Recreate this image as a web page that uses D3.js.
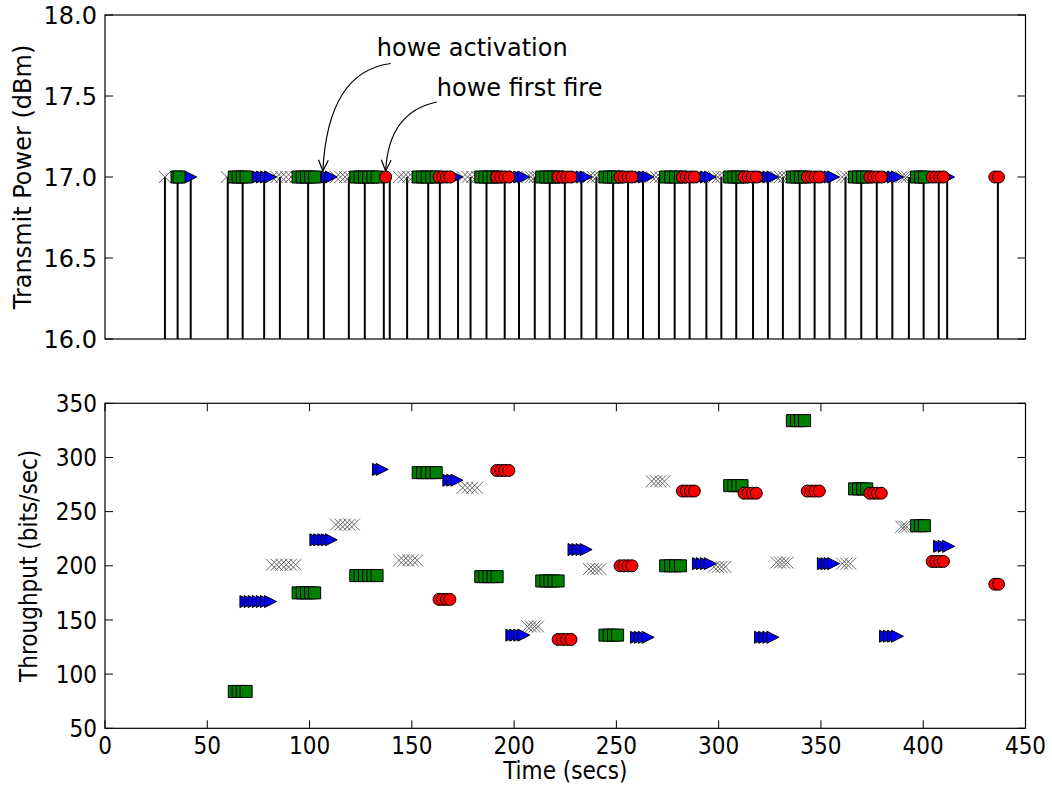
<!DOCTYPE html>
<html>
<head>
<meta charset="utf-8">
<script src="https://cdn.jsdelivr.net/npm/d3@7"></script>
<style>
  body { margin: 0; background: #fff; }
  text { font-family: "DejaVu Sans", "Bitstream Vera Sans", sans-serif; fill: #000; }
  .cond text { font-family: "DejaVu Sans Condensed", "DejaVu Sans", sans-serif; font-stretch: condensed; }
</style>
</head>
<body>
<div id="chart"></div>
<script>
// ---- data ----
// [time (secs), throughput (bits/sec)] for each node
var crossPts = [
  [81.6,201],[83.9,201],[86.2,201],[88.6,201],[90.9,201],[93.2,201],
  [112.9,238],[115.1,238],[117.3,238],[119.5,238],[121.7,238],
  [143.8,205],[146.0,205],[148.2,205],[150.4,205],[152.6,205],
  [174.8,272],[177.2,272],[179.5,272],[181.9,272],
  [206.5,144],[208.2,144],[210.0,144],[211.7,144],
  [236.6,197],[238.5,197],[240.3,197],[242.2,197],
  [267.3,278],[269.4,278],[271.4,278],[273.5,278],
  [297.7,199],[299.6,199],[301.4,199],[303.3,199],
  [328.2,203],[330.0,203],[331.9,203],[333.7,203],
  [360.4,202],[362.4,202],[364.3,202],
  [389.3,236],[390.7,236],[392.0,236]
];
var squarePts = [
  [63.2,84],[65.1,84],[67.1,84],[69.0,84],
  [94.4,175],[96.4,175],[98.5,175],[100.5,175],[102.5,175],
  [122.6,191],[124.7,191],[126.8,191],[128.9,191],[131.0,191],[133.0,191],
  [153.1,286],[155.3,286],[157.5,286],[159.7,286],[161.9,286],
  [183.7,190],[185.7,190],[187.7,190],[189.7,190],[191.7,190],
  [213.5,186],[215.5,186],[217.5,186],[219.5,186],[221.5,186],
  [244.4,136],[246.5,136],[248.6,136],[250.6,136],
  [274.1,200],[276.5,200],[278.9,200],[281.3,200],
  [305.4,274],[307.4,274],[309.4,274],[311.4,274],
  [336.0,334],[338.0,334],[340.0,334],[342.0,334],
  [366.4,271],[368.4,271],[370.4,271],[372.4,271],
  [396.7,237],[398.7,237],[400.6,237]
];
var trianglePts = [
  [68.9,167],[70.9,167],[72.9,167],[74.9,167],[76.9,167],[78.9,167],[80.9,167],
  [103.1,224],[105.0,224],[106.9,224],[108.7,224],[110.6,224],
  [133.7,289],[135.5,289],
  [168.1,279],[170.0,279],[172.0,279],
  [198.9,136],[200.8,136],[202.8,136],[204.7,136],
  [229.3,215],[231.2,215],[233.2,215],[235.2,215],
  [259.8,134],[261.7,134],[263.6,134],[265.5,134],
  [290.1,202],[292.0,202],[294.0,202],[295.9,202],
  [320.5,134],[322.5,134],[324.5,134],[326.5,134],
  [351.2,202],[352.9,202],[354.5,202],[356.2,202],
  [381.6,135],[383.5,135],[385.5,135],[387.4,135],
  [408.0,218],[410.2,218],[412.4,218]
];
var circlePts = [
  [163.3,169],[165.1,169],[166.9,169],[168.6,169],
  [191.5,288],[193.5,288],[195.4,288],[197.4,288],
  [221.5,132],[223.6,132],[225.7,132],[227.8,132],
  [251.8,200],[253.7,200],[255.7,200],[257.6,200],
  [282.3,269],[284.2,269],[286.2,269],[288.1,269],
  [312.4,267],[314.4,267],[316.4,267],[318.4,267],
  [343.3,269],[345.3,269],[347.2,269],[349.2,269],
  [373.9,267],[375.8,267],[377.6,267],[379.5,267],
  [404.4,204],[406.2,204],[408.1,204],[409.9,204],
  [435.0,183],[436.8,183]
];
// transmissions seen in the power plot with no throughput sample
var crossExtra = [29.3, 59.5];
var squareExtra = [35.2, 36.2];
var triangleExtra = [41.9];
var circleExtra = [137.2];

var txPower = 17.0;
// stem (slot start) times in the power plot
var stemTimes = [29.3, 35.5, 41.9, 60.0, 67.3, 77.8, 85.5, 99.3, 107.0, 119.2, 127.0,
  136.3, 139.2, 147.7, 158.0, 163.7, 172.6, 178.7, 186.5, 195.4, 202.4, 210.1,
  217.4, 224.8, 232.9, 240.2, 248.4, 255.7, 263.0, 270.8, 278.5, 285.8, 294.0,
  301.3, 308.6, 316.8, 324.1, 331.4, 339.6, 346.9, 354.2, 362.0, 369.7, 377.3,
  384.9, 393.0, 400.2, 407.6, 411.7, 436.5];

var powerTicks = [16.0, 16.5, 17.0, 17.5, 18.0];
var thrTicks = [50, 100, 150, 200, 250, 300, 350];
var timeTicks = [0, 50, 100, 150, 200, 250, 300, 350, 400, 450];

var notes = [
  {label: "howe activation", text: [132.9, 17.75], xy: [106.5, 17.0]},
  {label: "howe first fire", text: [162.2, 17.5], xy: [137.2, 17.0]}
];

// ---- layout ----
var W = 1052, H = 786;
var left = 105, right = 1025.5;
var fs = 24, tickLen = 8, ms = 12;

var svg = d3.select("#chart").append("svg")
  .attr("width", W).attr("height", H);

var x = d3.scaleLinear().domain([0, 450]).range([left, right]);
var yTop = d3.scaleLinear().domain([16, 18]).range([339, 15]);
var yBot = d3.scaleLinear().domain([50, 350]).range([728.3, 403.3]);

// marker shapes
var triRight = { draw: function(ctx, size) {
  var h = Math.sqrt(size) / 2;
  ctx.moveTo(h, 0); ctx.lineTo(-h, -h); ctx.lineTo(-h, h); ctx.closePath();
}};
var cross = { draw: function(ctx, size) {
  var h = Math.sqrt(size) / 2;
  ctx.moveTo(-h, -h); ctx.lineTo(h, h); ctx.moveTo(-h, h); ctx.lineTo(h, -h);
}};
var styles = {
  cross:    {path: d3.symbol().type(cross).size(ms*ms)(), fill: "none", stroke: "#444", sw: 0.8},
  square:   {path: d3.symbol().type(d3.symbolSquare).size(ms*ms)(), fill: "#008000", stroke: "#000", sw: 1},
  triangle: {path: d3.symbol().type(triRight).size(ms*ms)(), fill: "#0000ff", stroke: "#000", sw: 1},
  circle:   {path: d3.symbol().type(d3.symbolCircle).size(Math.PI*ms*ms/4)(), fill: "#ff0000", stroke: "#000", sw: 1}
};

function drawMarkers(g, pts, st) {
  g.append("g").selectAll("path")
    .data(pts)
    .enter()
    .append("path")
    .attr("transform", function(d) { return "translate(" + d[0] + "," + d[1] + ")"; })
    .attr("d", st.path)
    .attr("fill", st.fill)
    .attr("stroke", st.stroke)
    .attr("stroke-width", st.sw);
}

function frame(g, y0, y1) {
  g.append("rect")
    .attr("x", left).attr("y", y1)
    .attr("width", right - left).attr("height", y0 - y1)
    .attr("fill", "none").attr("stroke", "#000").attr("stroke-width", 1.2);
}

// ---- top panel: transmit power ----
var topG = svg.append("g");

topG.selectAll("line.stem")
  .data(stemTimes)
  .enter()
  .append("line")
  .attr("class", "stem")
  .attr("x1", function(d) { return x(d); })
  .attr("x2", function(d) { return x(d); })
  .attr("y1", yTop(16))
  .attr("y2", yTop(txPower))
  .attr("stroke", "#000")
  .attr("stroke-width", 2);

function txOf(pts, extra) {
  var t = extra.concat(pts.map(function(d) { return d[0]; }));
  return t.sort(d3.ascending).map(function(d) { return [x(d), yTop(txPower)]; });
}
drawMarkers(topG, txOf(crossPts, crossExtra), styles.cross);
drawMarkers(topG, txOf(trianglePts, triangleExtra), styles.triangle);
drawMarkers(topG, txOf(squarePts, squareExtra), styles.square);
drawMarkers(topG, txOf(circlePts, circleExtra), styles.circle);

frame(topG, yTop(16), yTop(18));

// y ticks, inside on both sides
powerTicks.forEach(function(v) {
  topG.append("line").attr("x1", left).attr("x2", left + tickLen)
    .attr("y1", yTop(v)).attr("y2", yTop(v)).attr("stroke", "#000");
  topG.append("line").attr("x1", right).attr("x2", right - tickLen)
    .attr("y1", yTop(v)).attr("y2", yTop(v)).attr("stroke", "#000");
  topG.append("text")
    .attr("x", left - 8).attr("y", yTop(v))
    .attr("dy", "0.36em")
    .attr("text-anchor", "end")
    .style("font-size", fs + "px")
    .text(d3.format(".1f")(v));
});

topG.append("text")
  .attr("transform", "translate(31," + (yTop(16) + yTop(18)) / 2 + ") rotate(-90)")
  .attr("text-anchor", "middle")
  .style("font-size", fs + "px")
  .text("Transmit Power (dBm)");

// annotations
notes.forEach(function(n, i) {
  var tx = x(n.text[0]), ty = yTop(n.text[1]);
  topG.append("text").attr("x", tx).attr("y", ty)
    .style("font-size", fs + "px").text(n.label);
  var s = i === 0 ? [tx + 14, ty + 8] : [tx, ty + 6];
  var e = [x(n.xy[0]), yTop(n.xy[1]) - 6];
  var c = i === 0 ? [e[0] + 5, s[1] + 8] : [e[0] + 3, s[1] + 10];
  var p = d3.path();
  p.moveTo(s[0], s[1]);
  p.quadraticCurveTo(c[0], c[1], e[0], e[1]);
  topG.append("path").attr("d", p.toString())
    .attr("fill", "none").attr("stroke", "#000").attr("stroke-width", 1.2);
  var ang = Math.atan2(e[1] - c[1], e[0] - c[0]);
  var hl = 12, ha = 0.42;
  var h = d3.path();
  h.moveTo(e[0] - hl * Math.cos(ang - ha), e[1] - hl * Math.sin(ang - ha));
  h.lineTo(e[0], e[1]);
  h.lineTo(e[0] - hl * Math.cos(ang + ha), e[1] - hl * Math.sin(ang + ha));
  topG.append("path").attr("d", h.toString())
    .attr("fill", "none").attr("stroke", "#000").attr("stroke-width", 1.2);
});

// ---- bottom panel: throughput ----
var botG = svg.append("g").attr("class", "cond");

function thrOf(pts) {
  return pts.map(function(d) { return [x(d[0]), yBot(d[1])]; });
}
drawMarkers(botG, thrOf(crossPts), styles.cross);
drawMarkers(botG, thrOf(trianglePts), styles.triangle);
drawMarkers(botG, thrOf(squarePts), styles.square);
drawMarkers(botG, thrOf(circlePts), styles.circle);

frame(botG, yBot(50), yBot(350));

thrTicks.forEach(function(v) {
  botG.append("line").attr("x1", left).attr("x2", left + tickLen)
    .attr("y1", yBot(v)).attr("y2", yBot(v)).attr("stroke", "#000");
  botG.append("line").attr("x1", right).attr("x2", right - tickLen)
    .attr("y1", yBot(v)).attr("y2", yBot(v)).attr("stroke", "#000");
  botG.append("text")
    .attr("x", left - 8).attr("y", yBot(v))
    .attr("dy", "0.36em")
    .attr("text-anchor", "end")
    .style("font-size", fs + "px")
    .text(v);
});
timeTicks.forEach(function(v) {
  botG.append("line").attr("x1", x(v)).attr("x2", x(v))
    .attr("y1", yBot(50)).attr("y2", yBot(50) - tickLen).attr("stroke", "#000");
  botG.append("line").attr("x1", x(v)).attr("x2", x(v))
    .attr("y1", yBot(350)).attr("y2", yBot(350) + tickLen).attr("stroke", "#000");
  botG.append("text")
    .attr("x", x(v)).attr("y", yBot(50) + 26)
    .attr("text-anchor", "middle")
    .style("font-size", fs + "px")
    .text(v);
});

botG.append("text")
  .attr("x", (left + right) / 2).attr("y", 779)
  .attr("text-anchor", "middle")
  .style("font-size", fs + "px")
  .text("Time (secs)");

botG.append("text")
  .attr("transform", "translate(37," + (yBot(50) + yBot(350)) / 2 + ") rotate(-90)")
  .attr("text-anchor", "middle")
  .style("font-size", fs + "px")
  .text("Throughput (bits/sec)");
</script>
</body>
</html>
